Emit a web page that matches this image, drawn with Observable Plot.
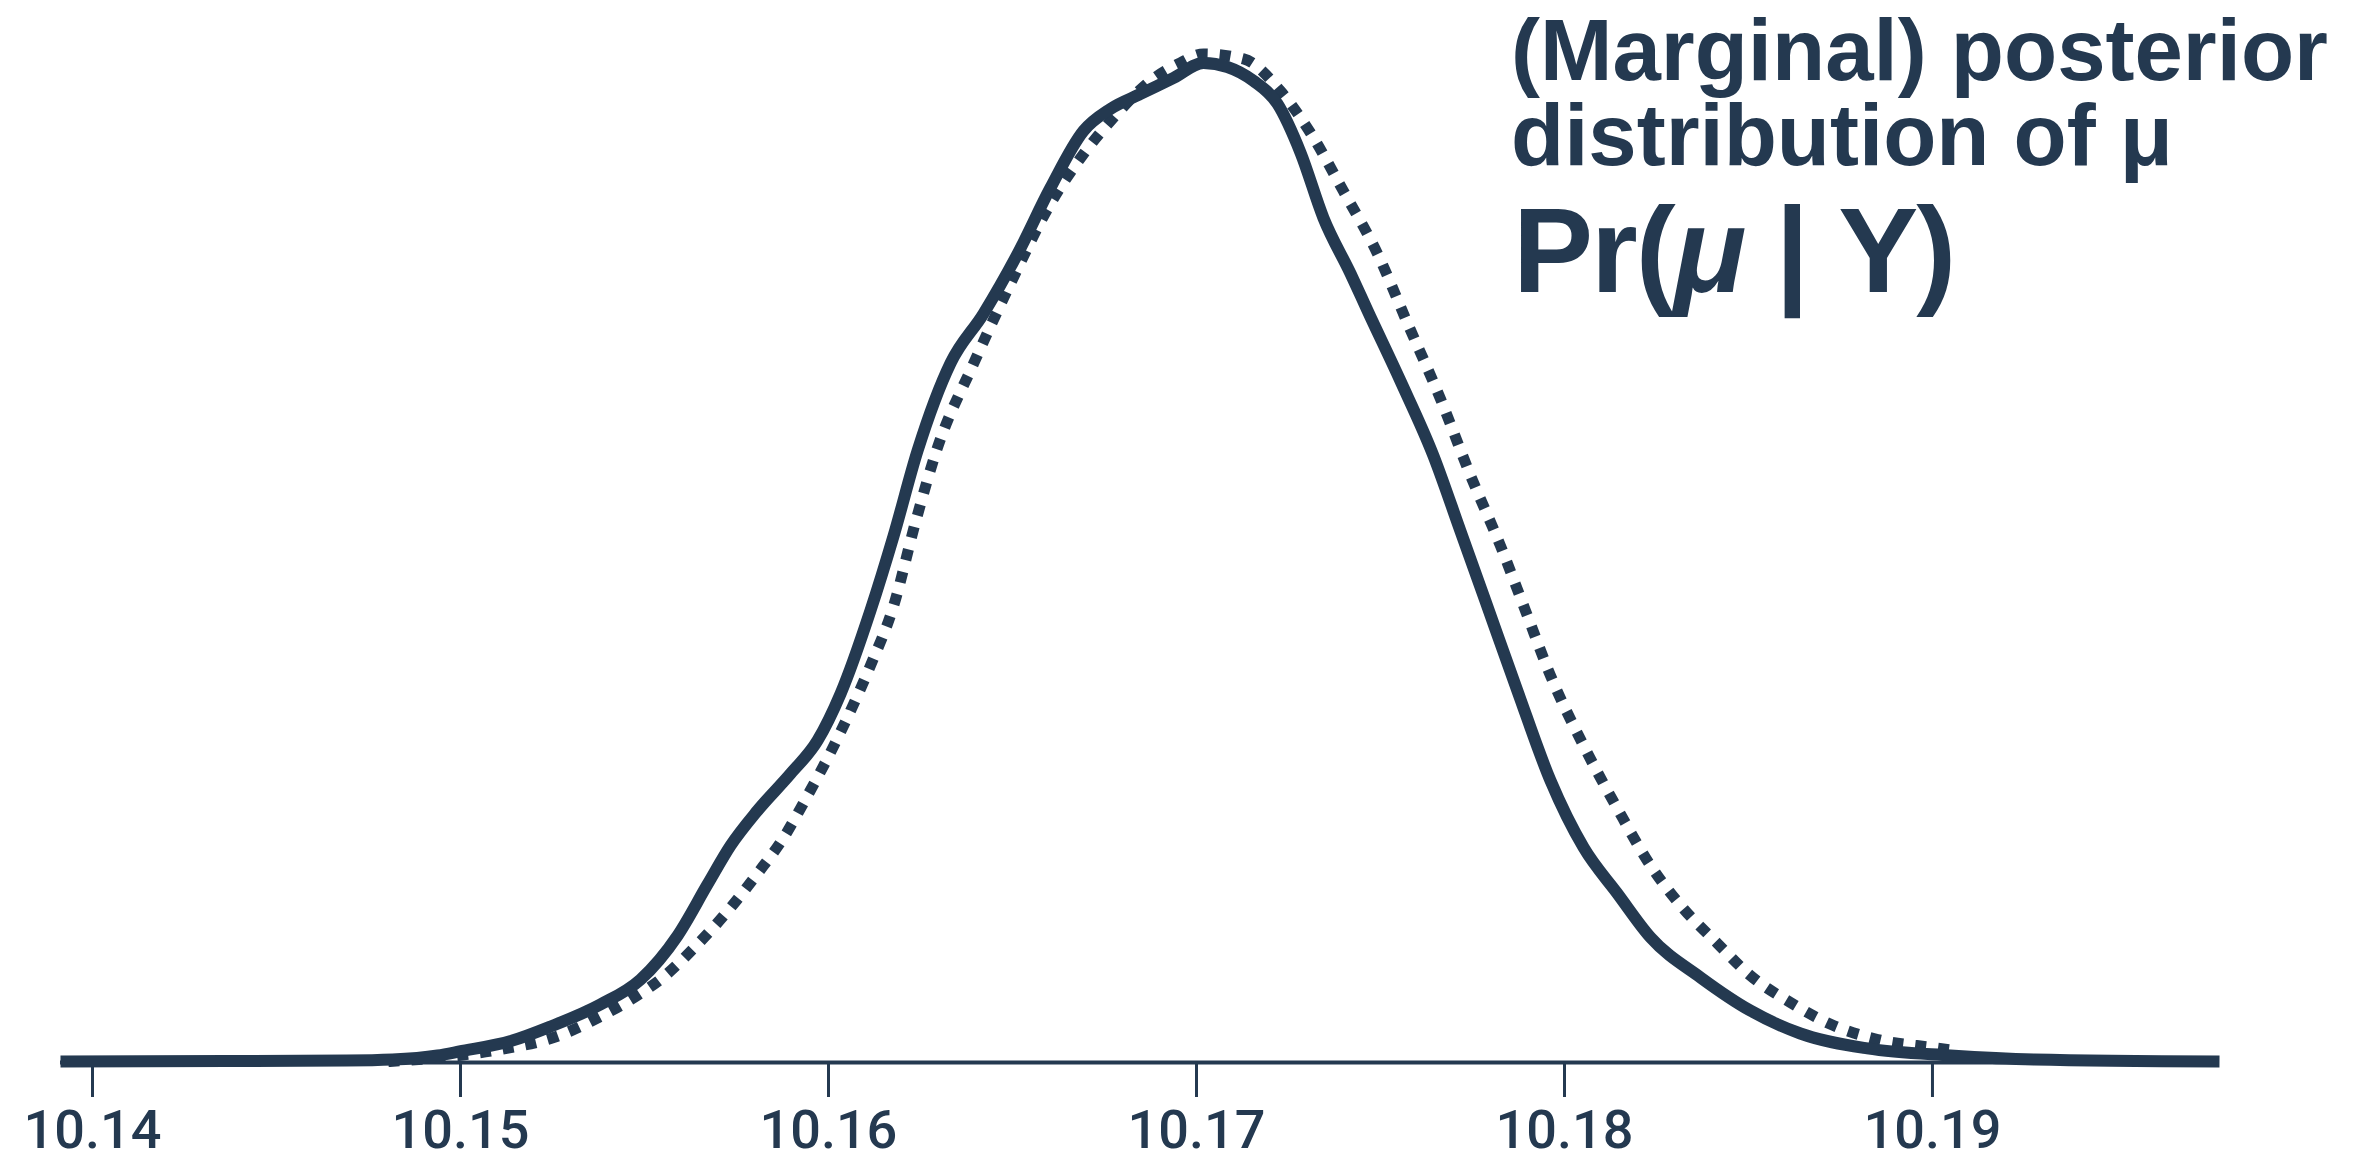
<!DOCTYPE html>
<html>
<head>
<meta charset="utf-8">
<script src="https://cdn.jsdelivr.net/npm/d3@7"></script>
<script src="https://cdn.jsdelivr.net/npm/@observablehq/plot@0.6"></script>
<style>
  html, body { margin: 0; padding: 0; background: #ffffff; }
  #wrap { position: relative; width: 2362px; height: 1162px; overflow: hidden; background: #ffffff; }
  #title { position: absolute; left: 1511px; top: 7px; color: #243950;
           font-family: "Liberation Sans", Arial, Helvetica, sans-serif; font-weight: bold; white-space: nowrap; }
  #title .l1 { font-size: 87px; line-height: 85px; height: 85px; }
  #title .l3 { font-size: 120px; line-height: 120px; height: 120px; margin-top: 13px; margin-left: 2px; letter-spacing: -2px; }
  svg { display: block; }
</style>
</head>
<body>
<div id="wrap">
  <div id="chart"></div>
  <div id="title">
    <div class="l1">(Marginal) posterior</div>
    <div class="l1">distribution of μ</div>
    <div class="l3">Pr(<i>μ</i> | Y)</div>
  </div>
</div>
<script>
// Solid curve: marginal posterior density of mu
const solidX = [10.13913, 10.14364, 10.1469, 10.14815, 10.14938, 10.14997, 10.15141, 10.15245, 10.1538, 10.15489,
  10.1559, 10.15671, 10.15734, 10.15807, 10.15897, 10.1597, 10.16033, 10.16114, 10.16177, 10.16242,
  10.16332, 10.16421, 10.16514, 10.16603, 10.16693, 10.16766, 10.16848, 10.16938, 10.17019, 10.17084,
  10.17155, 10.1722, 10.17283, 10.17345, 10.17419, 10.17465, 10.17554, 10.17644, 10.17717, 10.17785,
  10.17872, 10.17962, 10.18052, 10.18144, 10.18234, 10.1837, 10.18505, 10.18641, 10.18823, 10.19049,
  10.19277, 10.1978];
const solidDensity = [0.08, 0.12, 0.16, 0.24, 0.56, 0.88, 1.75, 2.87, 4.62, 6.61,
  10.12, 14.18, 17.29, 20.07, 23.02, 25.65, 29.4, 36.01, 41.98, 48.75,
  55.76, 59.67, 64.45, 69.7, 74.25, 76.0, 77.19, 78.47, 79.66, 79.34,
  78.23, 76.4, 72.49, 67.31, 62.85, 59.91, 54.33, 48.35, 42.38, 36.8,
  29.63, 22.46, 17.13, 13.46, 9.96, 6.77, 4.14, 2.31, 1.12, 0.56,
  0.24, 0.08];

// Dotted curve: comparison density
const dottedX = [10.14804, 10.14946, 10.15109, 10.15261, 10.1538, 10.15489, 10.15543, 10.15633, 10.15725, 10.15807,
  10.15878, 10.15943, 10.16005, 10.1606, 10.16114, 10.16177, 10.16236, 10.16296, 10.16394, 10.16494,
  10.16603, 10.16693, 10.16774, 10.16875, 10.16956, 10.17019, 10.17128, 10.17228, 10.1731, 10.17399,
  10.17492, 10.17573, 10.17663, 10.17745, 10.17826, 10.17894, 10.17962, 10.18052, 10.18144, 10.18234,
  10.18323, 10.18416, 10.18505, 10.18614, 10.18731, 10.18851, 10.19003, 10.19063];
const dottedDensity = [0.08, 0.40, 1.04, 2.07, 3.66, 5.50, 6.61, 9.08, 12.03, 15.06,
  17.92, 21.27, 24.69, 28.04, 31.63, 36.40, 43.02, 48.99, 55.68, 62.05,
  68.43, 72.41, 75.28, 78.23, 79.66, 80.38, 79.98, 77.43, 74.08, 69.46,
  64.45, 58.95, 52.89, 46.76, 41.18, 36.01, 30.83, 25.25, 20.23, 15.69,
  12.27, 9.48, 6.93, 4.78, 2.95, 1.83, 1.19, 0.96];

const tickValues = [10.14, 10.15, 10.16, 10.17, 10.18, 10.19];
const tickLabels = ["10.14", "10.15", "10.16", "10.17", "10.18", "10.19"];

const ink = "#243950";
const solid = solidX.map((x, i) => ({x, y: solidDensity[i]}));
const dotted = dottedX.map((x, i) => ({x, y: dottedDensity[i]}));

const chart = Plot.plot({
  width: 2362,
  height: 1162,
  marginLeft: 60,
  marginRight: 143,
  marginTop: 8,
  marginBottom: 100,
  style: {background: "#ffffff", color: ink, fontFamily: "Roboto, 'Liberation Sans', Arial, sans-serif", fontWeight: 500, overflow: "visible"},
  x: {domain: [10.13913, 10.1978]},
  y: {domain: [0, 84], axis: null},
  marks: [
    Plot.ruleY([0], {stroke: ink, strokeWidth: 4}),
    Plot.axisX({ticks: tickValues, tickFormat: d => tickLabels[tickValues.indexOf(d)], tickSize: 35, tickPadding: 12,
                fontSize: 54, fontWeight: 500, strokeWidth: 3, label: null}),
    Plot.line(dotted, {x: "x", y: "y", stroke: ink, strokeWidth: 11, strokeDasharray: "11 12",
                       strokeLinecap: "butt", strokeLinejoin: "round", curve: "monotone-x"}),
    Plot.line(solid, {x: "x", y: "y", stroke: ink, strokeWidth: 12,
                      strokeLinecap: "butt", strokeLinejoin: "round", curve: "monotone-x"})
  ]
});
document.getElementById("chart").appendChild(chart);
</script>
</body>
</html>
